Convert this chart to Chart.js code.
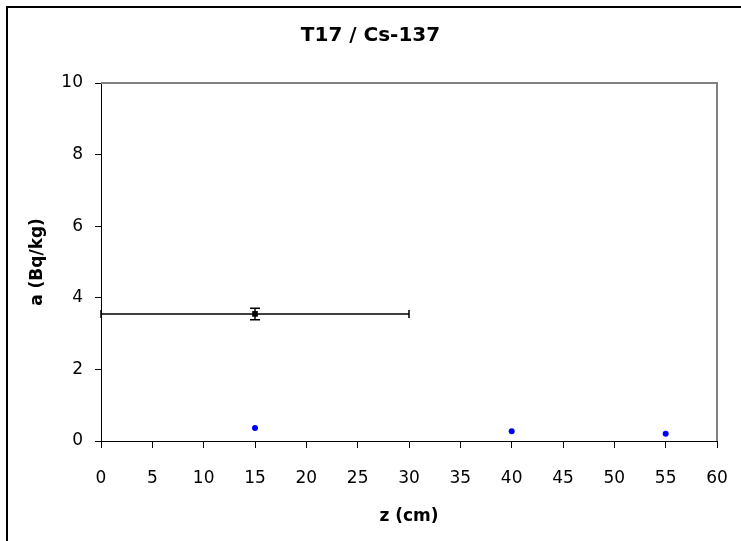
<!DOCTYPE html>
<html>
<head>
<meta charset="utf-8">
<script src="https://cdn.jsdelivr.net/npm/chart.js@4/dist/chart.umd.min.js"></script>
<style>
  html, body { margin: 0; padding: 0; background: #fff; }
  #wrap { width: 741px; height: 541px; }
</style>
</head>
<body>
<div id="wrap"><canvas id="myChart" width="741" height="541"></canvas></div>
<script>
// mean value with depth range and uncertainty
const meanZ = [15];
const meanA = [3.55];
const meanZErr = [15];
const meanAErr = [0.16];

// single samples
const sampleZ = [15, 40, 55];
const sampleA = [0.36, 0.27, 0.2];

const xTickMin = 0;
const xTickMax = 60;
const yTickMin = 0;
const yTickMax = 10;

const FONT = '"DejaVu Sans", "Liberation Sans", Arial, sans-serif';

const frame = {
  id: 'frame',
  beforeDatasetsDraw(chart) {
    const { ctx, chartArea: a } = chart;
    ctx.save();
    ctx.strokeStyle = '#808080';
    ctx.lineWidth = 2;
    ctx.beginPath();
    ctx.moveTo(a.left, a.top);
    ctx.lineTo(a.right, a.top);
    ctx.lineTo(a.right, a.bottom);
    ctx.stroke();
    ctx.restore();
  },
  afterDraw(chart) {
    const { ctx } = chart;
    ctx.save();
    ctx.strokeStyle = '#000';
    ctx.lineWidth = 2;
    ctx.strokeRect(7, 7, 760, 560);
    ctx.restore();
  },
};

const errorBars = {
  id: 'errorBars',
  beforeDatasetsDraw(chart) {
    const { ctx, scales: { x, y } } = chart;
    ctx.save();
    ctx.strokeStyle = '#000';
    ctx.lineWidth = 1.5;
    meanZ.forEach((z, i) => {
      const px = x.getPixelForValue(z);
      const py = y.getPixelForValue(meanA[i]);
      const x0 = x.getPixelForValue(z - meanZErr[i]);
      const x1 = x.getPixelForValue(z + meanZErr[i]);
      const y0 = y.getPixelForValue(meanA[i] - meanAErr[i]);
      const y1 = y.getPixelForValue(meanA[i] + meanAErr[i]);
      ctx.beginPath();
      ctx.moveTo(x0, py); ctx.lineTo(x1, py);
      ctx.moveTo(x0, py - 4); ctx.lineTo(x0, py + 4);
      ctx.moveTo(x1, py - 4); ctx.lineTo(x1, py + 4);
      ctx.moveTo(px, y0); ctx.lineTo(px, y1);
      ctx.moveTo(px - 5, y0); ctx.lineTo(px + 5, y0);
      ctx.moveTo(px - 5, y1); ctx.lineTo(px + 5, y1);
      ctx.stroke();
    });
    ctx.restore();
  },
};

const chart = new Chart(document.getElementById('myChart').getContext('2d'), {
  type: 'scatter',
  data: {
    datasets: [
      {
        data: meanZ.map((z, i) => ({ x: z, y: meanA[i] })),
        pointStyle: 'rect',
        pointRadius: 4,
        pointHoverRadius: 4,
        pointBackgroundColor: '#000',
        pointBorderColor: '#000',
        pointBorderWidth: 0,
      },
      {
        data: sampleZ.map((z, i) => ({ x: z, y: sampleA[i] })),
        pointStyle: 'circle',
        pointRadius: 3,
        pointHoverRadius: 3,
        pointBackgroundColor: '#0000ff',
        pointBorderColor: '#0000ff',
        pointBorderWidth: 0,
      },
    ],
  },
  options: {
    responsive: false,
    animation: false,
    events: [],
    layout: { padding: 0 },
    plugins: {
      legend: { display: false },
      tooltip: { enabled: false },
      title: {
        display: true,
        text: 'T17 / Cs-137',
        color: '#000',
        font: { family: FONT, size: 20, weight: 'bold' },
        padding: { top: 24, bottom: 35 },
      },
    },
    scales: {
      x: {
        type: 'linear',
        min: xTickMin,
        max: xTickMax,
        afterFit: (s) => { s.height = 100; s.paddingRight = 0; s.paddingLeft = 0; },
        border: { color: '#000', width: 1 },
        grid: { drawOnChartArea: false, tickLength: 7, color: '#000' },
        ticks: { stepSize: 5, color: '#000', padding: 20, font: { family: FONT, size: 17 } },
        title: {
          display: true,
          text: 'z (cm)',
          color: '#000',
          font: { family: FONT, size: 17, weight: 'bold' },
          padding: { top: 14, bottom: 14 },
        },
      },
      y: {
        type: 'linear',
        min: yTickMin,
        max: yTickMax,
        afterFit: (s) => { s.width = 101; },
        border: { color: '#000', width: 1 },
        grid: { drawOnChartArea: false, tickLength: 6, color: '#000' },
        ticks: { stepSize: 2, color: '#000', padding: 12, font: { family: FONT, size: 17 } },
        title: {
          display: true,
          text: 'a (Bq/kg)',
          color: '#000',
          font: { family: FONT, size: 17, weight: 'bold' },
          padding: { top: 27, bottom: 27 },
        },
      },
      // empty strip on the right, keeps the title centred on the page
      r: {
        type: 'linear',
        position: 'right',
        min: 0,
        max: 1,
        afterFit: (s) => { s.width = 24; },
        border: { display: false },
        grid: { display: false },
        ticks: { display: false },
      },
    },
  },
  plugins: [frame, errorBars],
});
</script>
</body>
</html>
